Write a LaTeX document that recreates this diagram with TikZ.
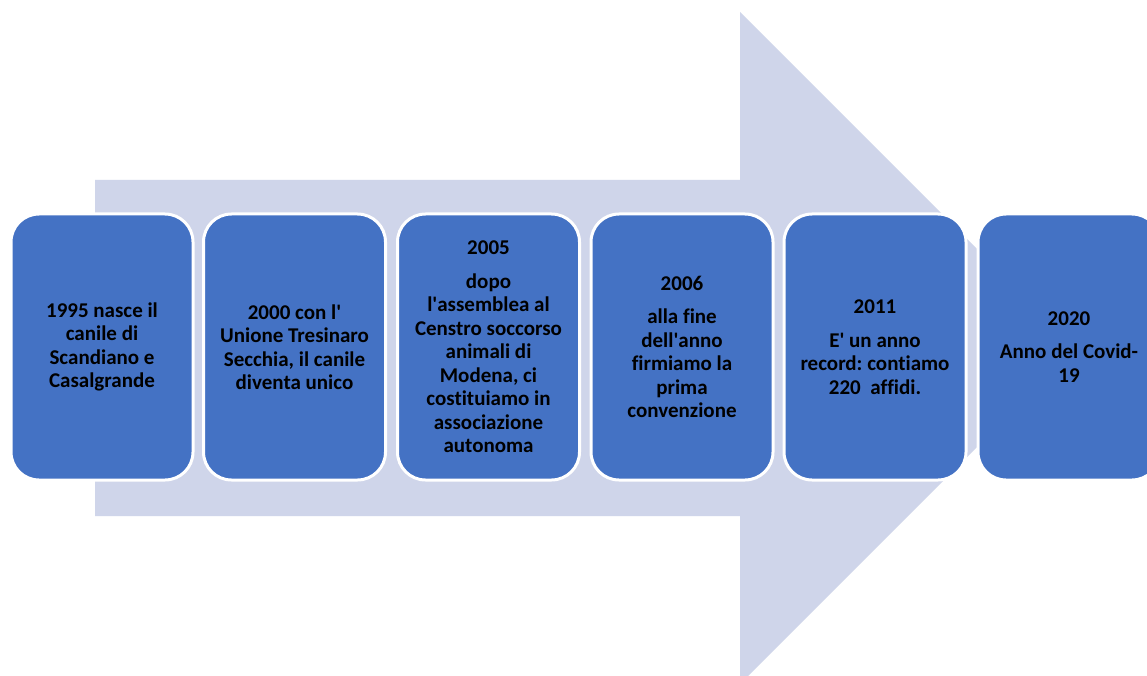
\documentclass[tikz,border=0pt]{standalone}
\usepackage{fontspec}
\setmainfont{Carlito}[Ligatures={NoCommon}]
\newcommand{\apo}{\textquotesingle}
\definecolor{arrowfill}{HTML}{CFD5EA}
\definecolor{boxblue}{HTML}{4472C4}
\frenchspacing
\begin{document}
\begin{tikzpicture}[x=1pt,y=-1pt,
  yearbox/.style={draw=white, line width=3pt, fill=boxblue, rounded corners=28pt,
    minimum width=182pt, minimum height=266pt, inner sep=2pt, align=center,
    text=black, font=\bfseries\fontsize{21}{23.5}\selectfont}]
\useasboundingbox (0,0) rectangle (1147,676);
\clip (0,0) rectangle (1147,676);
\fill[white] (0,0) rectangle (1147,676);
\fill[arrowfill] (95,180) -- (740,180) -- (740,12) -- (1076,348) -- (740,684) -- (740,516) -- (95,516) -- cycle;
\node[yearbox] (b1) at (102,347) {1995 nasce il\\canile di\\Scandiano e\\Casalgrande};
\node[yearbox] (b2) at (294.5,347) {2000 con l\apo\\Unione Tresinaro\\Secchia, il canile\\diventa unico};
\node[yearbox] (b3) at (488.5,347) {2005\\[10pt]dopo\\l\apo assemblea al\\Censtro soccorso\\animali di\\Modena, ci\\costituiamo in\\associazione\\autonoma};
\node[yearbox] (b4) at (682,347) {2006\\[10pt]alla fine\\dell\apo anno\\firmiamo la\\prima\\convenzione};
\node[yearbox] (b5) at (875,347) {2011\\[10pt]E\apo{} un anno\\record: contiamo\\220\ \ affidi.};
\node[yearbox] (b6) at (1069,347) {2020\\[10pt]Anno del Covid-\\19};
\end{tikzpicture}
\end{document}
